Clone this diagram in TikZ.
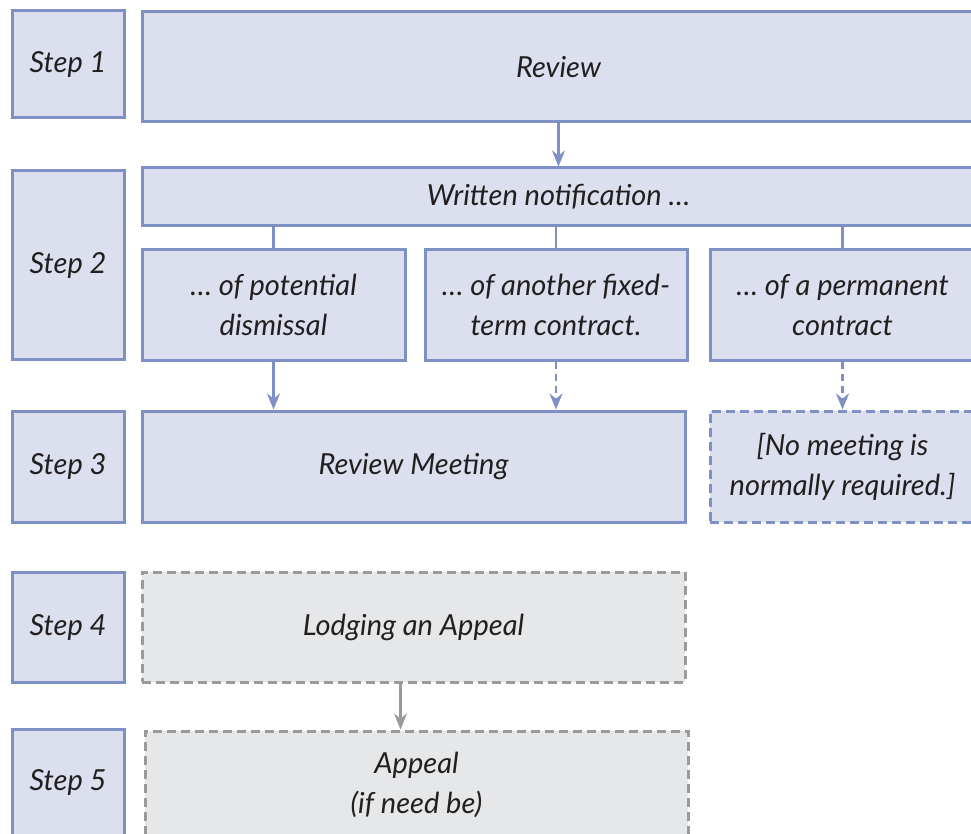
\documentclass[tikz,border=0pt]{standalone}
\usepackage{fontspec}
\setmainfont{Lato}
\usetikzlibrary{arrows.meta}
\definecolor{bfill}{HTML}{DCE0EE}
\definecolor{bline}{HTML}{7F90C4}
\definecolor{gfill}{HTML}{E6E7E9}
\definecolor{gline}{HTML}{9A9A9A}
\definecolor{txt}{HTML}{231F20}
\tikzset{
  box/.style={draw=bline, fill=bfill, line width=3pt, inner sep=0pt, align=center,
    text=txt, font=\fontsize{29}{40}\selectfont\itshape},
  dbox/.style={box, dash pattern=on 9pt off 5pt},
  gbox/.style={box, draw=gline, fill=gfill, dash pattern=on 9pt off 5pt},
  conn/.style={draw=bline, line width=2.4pt},
  arr/.style={conn, -{Stealth[length=16pt,width=13pt]}},
  darr/.style={arr, dash pattern=on 7pt off 5pt},
  garr/.style={arr, draw=gline},
}
\begin{document}
\begin{tikzpicture}[x=1pt,y=-1pt]
\useasboundingbox (0,0) rectangle (971,834);
\clip (0,0) rectangle (971,834);
% step labels
\node[box, minimum width=112pt, minimum height=107pt] (s1) at (68,64.5) {Step 1};
\node[box, minimum width=112pt, minimum height=188pt] (s2) at (68,265) {Step 2};
\node[box, minimum width=112pt, minimum height=111pt] (s3) at (68,466.5) {Step 3};
\node[box, minimum width=112pt, minimum height=110pt] (s4) at (68,627) {Step 4};
\node[box, minimum width=112pt, minimum height=107pt] (s5) at (68,782.5) {Step 5};
% main boxes
\node[box, minimum width=833pt, minimum height=110pt] (rev) at (558.5,67) {Review};
\node[box, minimum width=833pt, minimum height=58pt] (wn) at (558.5,197) {Written notification \dots};
\node[box, minimum width=263pt, minimum height=110pt] (a) at (273.5,305) {\dots\ of potential\\dismissal};
\node[box, minimum width=262pt, minimum height=110pt] (b) at (556,305) {\dots\ of another fixed-\\term contract.};
\node[box, minimum width=265pt, minimum height=110pt] (c) at (842.5,305) {\dots\ of a permanent\\contract};
\node[box, minimum width=543pt, minimum height=111pt] (m) at (413.5,466.5) {Review Meeting};
\node[dbox, minimum width=265pt, minimum height=111pt] (nm) at (842.5,466.5) {[No meeting is\\normally required.]};
\node[gbox, minimum width=543pt, minimum height=110pt] (l) at (413.5,627) {Lodging an Appeal};
\node[gbox, minimum width=543pt, minimum height=107pt] (p) at (416.5,784.5) {Appeal\\(if need be)};
% connectors
\draw[arr] (rev.south) -- (wn.north);
\draw[conn] (wn.south -| a.north) -- (a.north);
\draw[conn] (wn.south -| b.north) -- (b.north);
\draw[conn] (wn.south -| c.north) -- (c.north);
\draw[arr] (a.south) -- (a.south |- m.north);
\draw[darr] (b.south) -- (b.south |- m.north);
\draw[darr] (c.south) -- (nm.north);
\draw[garr] ([xshift=-13pt]l.south) -- ([xshift=-13pt]l.south |- p.north);
\end{tikzpicture}
\end{document}
